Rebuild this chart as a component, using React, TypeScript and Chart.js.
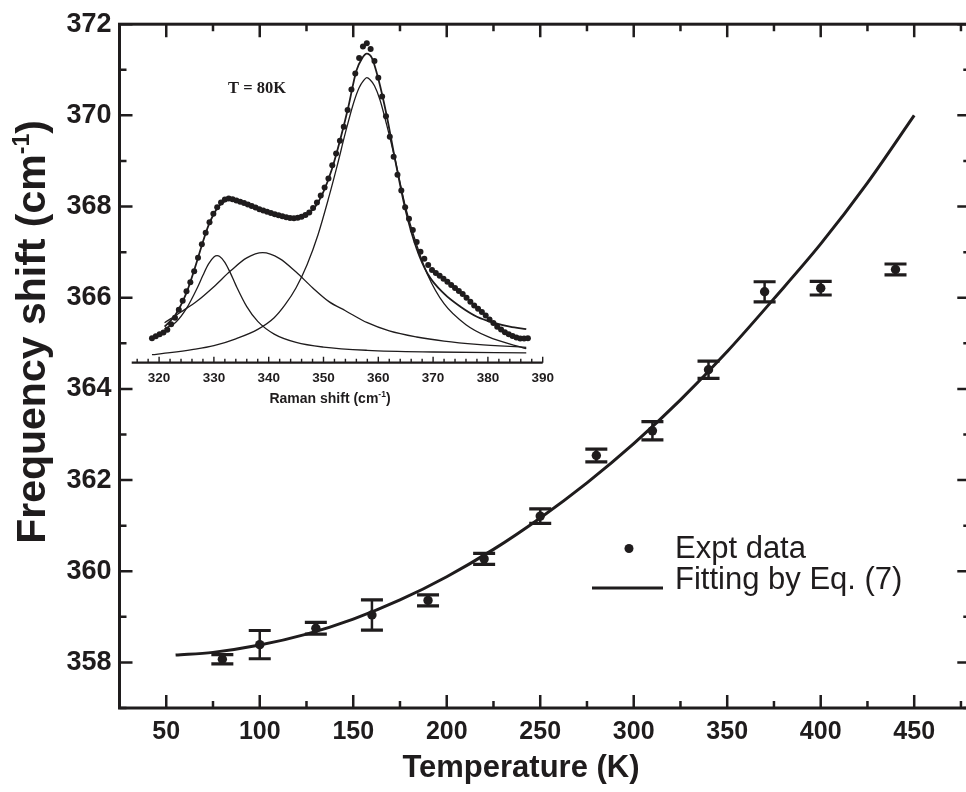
import React, { useEffect, useRef } from 'react';
import { Chart, registerables } from 'chart.js';

Chart.register(...registerables);

// ---------------- Main chart data ----------------
const tempK = [80, 100, 130, 160, 190, 220, 250, 280, 310, 340, 370, 400, 440];
const freqShift = [358.07, 358.39, 358.75, 359.04, 359.36, 360.27, 361.21, 362.54, 363.08, 364.42, 366.13, 366.21, 366.62];
const freqErr = [0.1, 0.31, 0.13, 0.33, 0.12, 0.12, 0.16, 0.14, 0.2, 0.19, 0.22, 0.15, 0.12];

const fitT = [55, 75, 100, 125, 150, 175, 200, 225, 250, 275, 300, 325, 350, 375, 400, 425, 450];
const fitFreq = [358.16, 358.22, 358.38, 358.62, 358.95, 359.37, 359.88, 360.48, 361.17, 361.94, 362.8, 363.76, 364.82, 365.98, 367.18, 368.52, 370.0];

// ---------------- Inset data (T = 80K Raman spectrum) ----------------
const ramanDotShift = [
  318.7, 319.4, 320.1, 320.8, 321.5, 322.2, 322.9, 323.6, 324.3, 325.0,
  325.7, 326.4, 327.1, 327.8, 328.5, 329.2, 329.9, 330.6, 331.3, 332.0,
  332.7, 333.4, 334.1, 334.8, 335.5, 336.2, 336.9, 337.6, 338.3, 339.0,
  339.7, 340.4, 341.1, 341.8, 342.5, 343.2, 343.9, 344.6, 345.3, 346.0,
  346.7, 347.4, 348.1, 348.8, 349.5, 350.2, 350.9, 351.6, 352.3, 353.0,
  353.7, 354.4, 355.1, 355.8, 356.5, 357.2, 357.9, 358.6, 359.3, 360.0,
  360.7, 361.4, 362.1, 362.8, 363.5, 364.2, 364.9, 365.6, 366.3, 367.0,
  367.7, 368.4, 369.1, 369.8, 370.5, 371.2, 371.9, 372.6, 373.3, 374.0,
  374.7, 375.4, 376.1, 376.8, 377.5, 378.2, 378.9, 379.6, 380.3, 381.0,
  381.7, 382.4, 383.1, 383.8, 384.5, 385.2, 385.9, 386.6, 387.3,
];
const ramanDotIntensity = [
  24.4, 26.4, 28.5, 30.2, 33, 38.5, 45, 53, 62, 71.5,
  80.5, 91.5, 105, 118.5, 130, 140.5, 149, 155.5, 160.3, 163.2,
  164.3, 163.5, 162.3, 161, 159.7, 158.3, 156.7, 155.1, 153.5, 152.2,
  151, 149.7, 148.4, 147.4, 146.4, 145.4, 144.8, 144.4, 144.9, 146,
  147.7, 150.3, 154.6, 160.2, 167.1, 175.3, 184.3, 197.4, 209.3, 222,
  236, 252.7, 273.3, 289.3, 304.6, 316.2, 319.4, 313.6, 301.8, 285,
  266.3, 246.4, 226, 206, 188, 172.3, 155.5, 144, 132.7, 120.8,
  110.9, 104, 97.8, 92.7, 89.8, 86.9, 83.9, 80.9, 77.8, 74.7,
  71.6, 68.6, 64.9, 61, 57.2, 54, 50.7, 47.1, 43.3, 39.6,
  36, 33.1, 30.5, 28.5, 26.8, 25.2, 24.3, 24.3, 24.5,
];

const totalFitShift = [321, 323, 325, 327, 328, 329, 330, 331, 332, 333, 334, 336, 338, 340, 342, 344, 345.5, 347, 348.5, 350, 351.5, 353, 354.5, 356, 357, 357.9, 358.8, 360, 361.5, 363, 365, 367, 369, 372, 375, 378, 381, 384, 387];
const totalFitIntensity = [36, 48, 70, 103, 121, 137, 149, 157, 161.5, 163, 162.3, 158.8, 155, 151, 147.5, 145, 145, 148.5, 156, 171, 193, 222, 255, 292, 304, 309, 305, 284, 248, 205, 152, 114, 89, 69, 56, 46, 40, 36, 33.5];

const peakAShift = [321, 323, 325, 327, 328, 329, 330, 330.6, 331, 332, 333, 334, 336, 338, 341, 345, 350, 358, 370, 387];
const peakAIntensity = [34, 40.2, 54.3, 75.2, 87.4, 98.5, 105.7, 107, 106.4, 100.4, 89.8, 77.6, 56.1, 41.3, 28.6, 20.3, 15.6, 12.4, 10.7, 9.8];

const peakBShift = [321, 324, 327, 330, 333, 336, 338.9, 342, 345, 348, 351, 354, 358, 362, 367, 372, 378, 387];
const peakBIntensity = [40, 50.7, 61.9, 76, 91.6, 104.8, 110, 104.1, 90.6, 75, 61.1, 52, 40, 31.8, 25.7, 21.6, 18.4, 15.4];

const peakCShift = [318.7, 322, 326, 330, 334, 338, 341, 343, 345, 347, 349, 351, 352.5, 354, 355.5, 356.5, 357.3, 357.9, 358.5, 359.3, 360.3, 361.5, 363, 365, 367, 369, 372, 376, 380, 387];
const peakCIntensity = [8, 10, 13, 17, 23.9, 33.3, 45, 58, 75, 98, 128, 166, 197, 230, 260, 275, 282, 285, 283, 277, 263, 238.5, 204.7, 155, 118, 88, 59, 38, 26, 14];

// ---------------- Text ----------------
const yTitleMain = 'Frequency shift (cm';
const xTitle = 'Temperature (K)';
const insetXTitle = 'Raman shift (cm';
const supText = '-1';
const insetLabel = 'T = 80K';
const legendExpt = 'Expt data';
const legendFit = 'Fitting by Eq. (7)';

const INK = '#1f1c1d';
const SANS = "'Liberation Sans', Arial, Helvetica, sans-serif";
const SERIF = "'Liberation Serif', 'Times New Roman', serif";

type Part = { text: string; size: number; rise: number };

function drawParts(
  ctx: CanvasRenderingContext2D,
  parts: Part[],
  family: string,
  weight: string,
  cx: number,
  cy: number,
  rot: number
) {
  ctx.save();
  ctx.translate(cx, cy);
  if (rot) ctx.rotate(rot);
  ctx.textBaseline = 'alphabetic';
  ctx.textAlign = 'left';
  ctx.fillStyle = INK;
  let total = 0;
  const widths = parts.map((p) => {
    ctx.font = `${weight} ${p.size}px ${family}`;
    const w = ctx.measureText(p.text).width;
    total += w;
    return w;
  });
  let x = -total / 2;
  parts.forEach((p, i) => {
    ctx.font = `${weight} ${p.size}px ${family}`;
    ctx.fillText(p.text, x, -p.rise);
    x += widths[i];
  });
  ctx.restore();
}

const mainDecor = {
  id: 'mainDecor',
  afterDatasetsDraw(chart: any) {
    const { ctx, scales } = chart;
    const x = scales.x;
    const y = scales.y;
    ctx.save();
    ctx.strokeStyle = INK;
    tempK.forEach((t, i) => {
      const px = x.getPixelForValue(t);
      const yHi = y.getPixelForValue(freqShift[i] + freqErr[i]);
      const yLo = y.getPixelForValue(freqShift[i] - freqErr[i]);
      ctx.lineWidth = 2.5;
      ctx.beginPath();
      ctx.moveTo(px, yHi);
      ctx.lineTo(px, yLo);
      ctx.stroke();
      ctx.lineWidth = 3.2;
      ctx.beginPath();
      ctx.moveTo(px - 11, yHi);
      ctx.lineTo(px + 11, yHi);
      ctx.moveTo(px - 11, yLo);
      ctx.lineTo(px + 11, yLo);
      ctx.stroke();
    });
    ctx.restore();
  },
  afterDraw(chart: any) {
    const { ctx, chartArea, scales } = chart;
    const { left, right, top, bottom } = chartArea;
    const x = scales.x;
    const y = scales.y;
    ctx.save();
    ctx.strokeStyle = INK;
    ctx.lineWidth = 2.5;
    ctx.beginPath();
    x.ticks.forEach((t: any) => {
      const px = x.getPixelForValue(t.value);
      const len = t.value % 50 === 0 ? 13 : 7;
      ctx.moveTo(px, bottom);
      ctx.lineTo(px, bottom - len);
      ctx.moveTo(px, top);
      ctx.lineTo(px, top + len);
    });
    y.ticks.forEach((t: any) => {
      const py = y.getPixelForValue(t.value);
      const len = t.value % 2 === 0 ? 13 : 7;
      ctx.moveTo(left, py);
      ctx.lineTo(left + len, py);
      ctx.moveTo(right, py);
      ctx.lineTo(right - len, py);
    });
    ctx.stroke();
    ctx.lineWidth = 3;
    ctx.strokeRect(left, top, right - left, bottom - top);

    // legend
    ctx.fillStyle = INK;
    ctx.beginPath();
    ctx.arc(629, 548.5, 4.5, 0, Math.PI * 2);
    ctx.fill();
    ctx.lineWidth = 3;
    ctx.beginPath();
    ctx.moveTo(592, 588);
    ctx.lineTo(663, 588);
    ctx.stroke();
    ctx.font = `normal 31px ${SANS}`;
    ctx.textAlign = 'left';
    ctx.textBaseline = 'alphabetic';
    ctx.fillText(legendExpt, 675, 557.5);
    ctx.fillText(legendFit, 675, 588.5);
    ctx.restore();

    drawParts(
      ctx,
      [
        { text: yTitleMain, size: 41, rise: 0 },
        { text: supText, size: 23, rise: 16 },
        { text: ')', size: 41, rise: 0 },
      ],
      SANS,
      'bold',
      45,
      332,
      -Math.PI / 2
    );
    drawParts(ctx, [{ text: xTitle, size: 31, rise: 0 }], SANS, 'bold', 521, 777, 0);
  },
};

const insetDecor = {
  id: 'insetDecor',
  afterDraw(chart: any) {
    const { ctx, chartArea, scales } = chart;
    const { left, right, bottom } = chartArea;
    const x = scales.x;
    ctx.save();
    ctx.strokeStyle = INK;
    ctx.lineWidth = 1.4;
    ctx.beginPath();
    x.ticks.forEach((t: any) => {
      const px = x.getPixelForValue(t.value);
      const len = t.value % 10 === 0 ? 6 : 4;
      ctx.moveTo(px, bottom);
      ctx.lineTo(px, bottom - len);
    });
    ctx.stroke();
    ctx.lineWidth = 2.2;
    ctx.beginPath();
    ctx.moveTo(left, bottom);
    ctx.lineTo(right, bottom);
    ctx.stroke();
    ctx.restore();

    drawParts(ctx, [{ text: insetLabel, size: 16.5, rise: 0 }], SERIF, 'bold', 147, 68.3, 0);
    drawParts(
      ctx,
      [
        { text: insetXTitle, size: 14, rise: 0 },
        { text: supText, size: 8.5, rise: 6 },
        { text: ')', size: 14, rise: 0 },
      ],
      SANS,
      'bold',
      220,
      377.7,
      0
    );
  },
};

function pts(xs: number[], ys: number[]) {
  return xs.map((v, i) => ({ x: v, y: ys[i] }));
}

export default function App() {
  const mainRef = useRef<HTMLCanvasElement>(null);
  const insetRef = useRef<HTMLCanvasElement>(null);

  useEffect(() => {
    const main = new Chart(mainRef.current as HTMLCanvasElement, {
      type: 'scatter',
      data: {
        datasets: [
          {
            label: legendExpt,
            data: pts(tempK, freqShift),
            pointRadius: 4.7,
            pointBackgroundColor: INK,
            pointBorderWidth: 0,
            showLine: false,
          } as any,
          {
            label: legendFit,
            data: pts(fitT, fitFreq),
            showLine: true,
            borderColor: INK,
            borderWidth: 3,
            pointRadius: 0,
            cubicInterpolationMode: 'monotone',
            fill: false,
          } as any,
        ],
      },
      options: {
        responsive: false,
        animation: false,
        devicePixelRatio: 1,
        layout: { padding: { top: 20, right: 0, left: 0, bottom: 0 } },
        plugins: { legend: { display: false }, tooltip: { enabled: false } },
        scales: {
          x: {
            type: 'linear',
            min: 25,
            max: 480,
            grid: { display: false, drawTicks: false },
            border: { display: false },
            ticks: {
              stepSize: 25,
              includeBounds: false,
              autoSkip: false,
              maxRotation: 0,
              minRotation: 0,
              padding: 9,
              color: INK,
              font: { family: SANS, size: 25, weight: 'bold' },
              callback: (v: any) => (Number(v) % 50 === 0 ? String(v) : ''),
            },
            afterFit: (s: any) => {
              s.height = 84;
            },
          },
          y: {
            type: 'linear',
            min: 357,
            max: 372,
            grid: { display: false, drawTicks: false },
            border: { display: false },
            ticks: {
              stepSize: 1,
              includeBounds: false,
              autoSkip: false,
              padding: 8,
              color: INK,
              font: { family: SANS, size: 27, weight: 'bold' },
              callback: (v: any) => (Number(v) % 2 === 0 ? String(v) : ''),
            },
            afterFit: (s: any) => {
              s.width = 119.5;
            },
          },
        },
      } as any,
      plugins: [mainDecor],
    });

    const inset = new Chart(insetRef.current as HTMLCanvasElement, {
      type: 'scatter',
      data: {
        datasets: [
          {
            data: pts(ramanDotShift, ramanDotIntensity),
            pointRadius: 3,
            pointBackgroundColor: INK,
            pointBorderWidth: 0,
            showLine: false,
          } as any,
          {
            data: pts(totalFitShift, totalFitIntensity),
            showLine: true,
            borderColor: INK,
            borderWidth: 1.8,
            pointRadius: 0,
            cubicInterpolationMode: 'monotone',
          } as any,
          {
            data: pts(peakAShift, peakAIntensity),
            showLine: true,
            borderColor: INK,
            borderWidth: 1.3,
            pointRadius: 0,
            cubicInterpolationMode: 'monotone',
          } as any,
          {
            data: pts(peakBShift, peakBIntensity),
            showLine: true,
            borderColor: INK,
            borderWidth: 1.3,
            pointRadius: 0,
            cubicInterpolationMode: 'monotone',
          } as any,
          {
            data: pts(peakCShift, peakCIntensity),
            showLine: true,
            borderColor: INK,
            borderWidth: 1.3,
            pointRadius: 0,
            cubicInterpolationMode: 'monotone',
          } as any,
        ],
      },
      options: {
        responsive: false,
        animation: false,
        devicePixelRatio: 1,
        layout: { padding: { left: 21.7, right: 27.3, top: 7.7, bottom: 0 } },
        plugins: { legend: { display: false }, tooltip: { enabled: false } },
        scales: {
          x: {
            type: 'linear',
            min: 315,
            max: 390,
            grid: { display: false, drawTicks: false },
            border: { display: false },
            ticks: {
              stepSize: 2,
              includeBounds: false,
              autoSkip: false,
              maxRotation: 0,
              minRotation: 0,
              padding: 7,
              color: INK,
              font: { family: SANS, size: 13.5, weight: 'bold' },
              callback: (v: any) => (Number(v) % 10 === 0 ? String(v) : ''),
            },
            afterFit: (s: any) => {
              s.height = 62.3;
            },
          },
          y: { type: 'linear', display: false, min: 0, max: 330 },
        },
      } as any,
      plugins: [insetDecor],
    });

    return () => {
      main.destroy();
      inset.destroy();
    };
  }, []);

  return (
    <div
      style={{
        position: 'absolute',
        left: 0,
        top: 0,
        width: 966,
        height: 792,
        overflow: 'hidden',
        background: '#ffffff',
      }}
    >
      <canvas
        ref={mainRef}
        width={975}
        height={792}
        style={{ position: 'absolute', left: 0, top: 0, width: 975, height: 792 }}
      />
      <canvas
        ref={insetRef}
        width={460}
        height={400}
        style={{ position: 'absolute', left: 110, top: 25, width: 460, height: 400 }}
      />
    </div>
  );
}
